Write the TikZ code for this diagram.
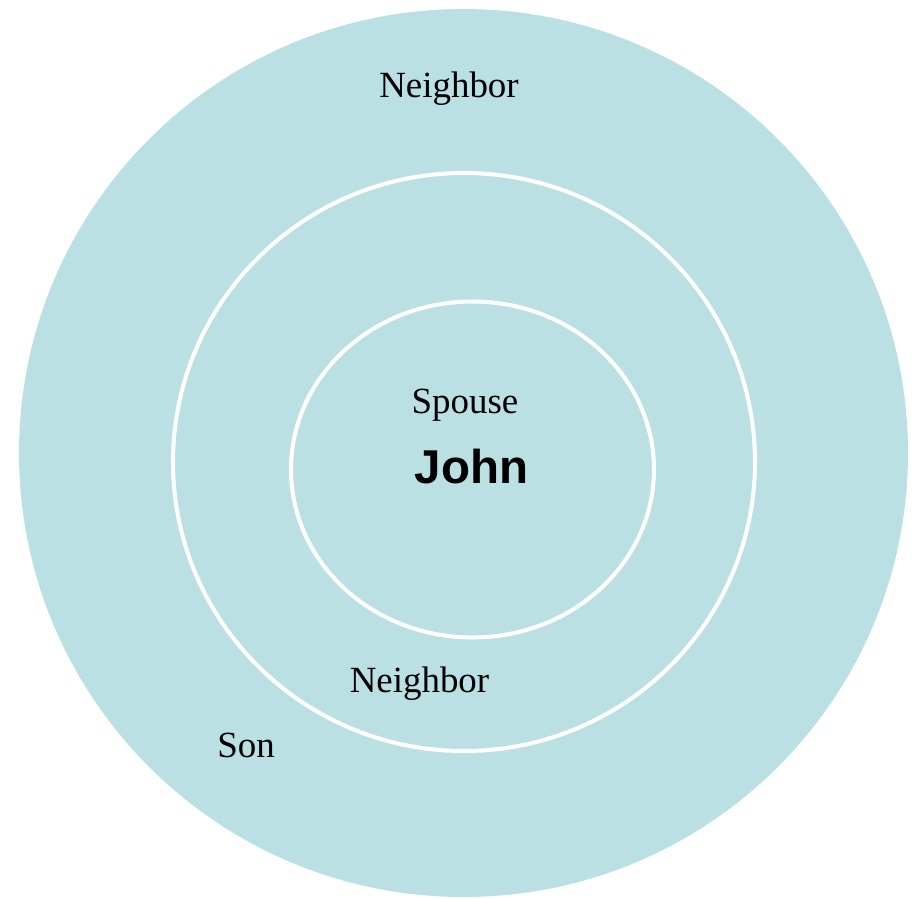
\documentclass[tikz,border=0pt]{standalone}
\usepackage{fontspec}
\setmainfont{Liberation Serif}
\newfontfamily\namefont{Liberation Sans}
\usepackage{xcolor}
\usepackage{tikz}
\usetikzlibrary{positioning}
\definecolor{RingTeal}{HTML}{BAE0E3}
\tikzset{
  ringfill/.style={fill=RingTeal},
  ringline/.style={fill=RingTeal,draw=white,line width=1.15pt},
  rolelabel/.style={anchor=base,inner sep=0pt,font=\fontsize{10.5}{12.5}\selectfont},
  namelabel/.style={anchor=base,inner sep=0pt,font=\namefont\bfseries\fontsize{13.5}{16}\selectfont}
}

\begin{document}
\begin{tikzpicture}[x=0.01cm,y=-0.01cm]
\useasboundingbox (0,0) rectangle (917,899);
% three rings, outer to inner
\fill[ringfill] (463.5,453) ellipse [x radius=444.5,y radius=444];
\draw[ringline] (464,462) ellipse [x radius=291,y radius=289];
\draw[ringline] (472.5,469.5) ellipse [x radius=181.5,y radius=168];
% labels
\node[rolelabel] (nbouter) at (449,97) {Neighbor};
\node[rolelabel] (spouse) at (465,413) {Spouse};
\node[namelabel] (john) at (471.5,483) {John};
\node[rolelabel] (nbinner) at (419.5,692) {Neighbor};
\node[rolelabel] (son) at (246,757) {Son};
\end{tikzpicture}
\end{document}
